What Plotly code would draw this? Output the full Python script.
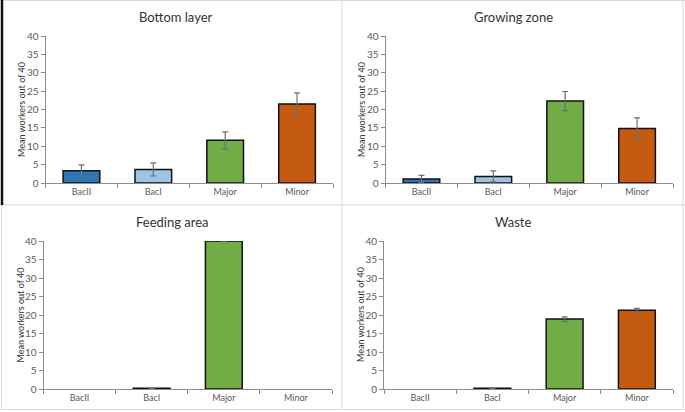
import plotly.graph_objects as go

categories = ["BacII", "BacI", "Major", "Minor"]
bar_colors = ["#2E75B6", "#9DC3E6", "#70AD47", "#C55A11"]

panel_titles = ["Bottom layer", "Growing zone", "Feeding area", "Waste"]

bottom_layer_mean = [3.35, 3.7, 11.6, 21.5]
bottom_layer_err = [1.6, 1.8, 2.3, 3.0]

growing_zone_mean = [1.1, 1.8, 22.3, 14.8]
growing_zone_err = [1.0, 1.5, 2.6, 2.9]

feeding_area_mean = [0.0, 0.2, 40.0, 0.0]
feeding_area_err = [0.0, 0.05, 0.05, 0.0]

waste_mean = [0.0, 0.2, 18.9, 21.3]
waste_err = [0.0, 0.1, 0.6, 0.5]

y_title = "Mean workers out of 40"

W, H = 685, 412

def px(x):
    return x / W

def py(y):
    return 1 - y / H

panels = [
    (bottom_layer_mean, bottom_layer_err, (45.5, 333), (36, 183), 176, 17),
    (growing_zone_mean, growing_zone_err, (385.5, 673), (36, 183), 513, 17),
    (feeding_area_mean, feeding_area_err, (43.5, 332), (241, 389), 172, 222),
    (waste_mean, waste_err, (384, 673), (241, 389), 513, 222),
]

fig = go.Figure()
font_family = "Lato, Liberation Sans, sans-serif"
axis_color = "#8c8c8c"
tick_font = dict(family=font_family, size=9, color="#595959")

annotations = []
for i, (vals, errs, (x0, x1), (ytop, ybot), tx, ty) in enumerate(panels):
    n = "" if i == 0 else str(i + 1)
    y_vals = [v if v > 0 else None for v in vals]
    err_arr = [e if v > 0 else None for v, e in zip(vals, errs)]
    fig.add_trace(go.Bar(
        x=categories, y=y_vals,
        marker=dict(color=bar_colors, line=dict(color="#111111", width=1.5)),
        width=0.51,
        error_y=dict(type="data", array=err_arr, visible=True,
                     color="#6f6f6f", thickness=1.2, width=3),
        xaxis="x" + n, yaxis="y" + n, showlegend=False,
    ))
    fig.update_layout(**{
        "xaxis" + n: dict(
            domain=[px(x0), px(x1)], anchor="y" + n,
            showline=True, linecolor=axis_color, linewidth=1,
            ticks="outside", tickson="boundaries", ticklen=4, tickcolor=axis_color,
            tickfont=tick_font, showgrid=False, fixedrange=True, automargin=False,
            categoryorder="array", categoryarray=categories,
        ),
        "yaxis" + n: dict(
            domain=[py(ybot), py(ytop)], anchor="x" + n,
            range=[0, 40], dtick=5, showline=True, linecolor=axis_color, linewidth=1,
            ticks="outside", ticklen=4, tickcolor=axis_color,
            tickfont=dict(family=font_family, size=10, color="#595959"),
            showgrid=False, zeroline=False, fixedrange=True, automargin=False,
        ),
    })
    annotations.append(dict(
        text=panel_titles[i], x=px(tx), y=py(ty), xref="paper", yref="paper",
        showarrow=False, xanchor="center", yanchor="middle",
        font=dict(family=font_family, size=13, color="#333333"),
    ))
    annotations.append(dict(
        text=y_title, x=px(x0 - 24), y=py((ytop + ybot) / 2), xref="paper", yref="paper",
        showarrow=False, textangle=-90, xanchor="center", yanchor="middle",
        font=dict(family=font_family, size=9, color="#333333"),
    ))

shapes = []
grey = "#d9d9d9"
def line(x0, y0, x1, y1, color=grey, width=1):
    shapes.append(dict(type="line", xref="paper", yref="paper",
                       x0=px(x0), y0=py(y0), x1=px(x1), y1=py(y1),
                       line=dict(color=color, width=width)))

line(342, 0, 342, 410)
line(0, 205, 685, 205)
line(683, 0, 683, 410)
line(0, 409.5, 685, 409.5)
line(0, 0.5, 685, 0.5)
line(1.5, 205, 1.5, 410)
line(2, 0, 2, 205, color="#111111", width=2.5)

fig.update_layout(
    width=W, height=H,
    margin=dict(l=0, r=0, t=0, b=0, pad=0),
    paper_bgcolor="white", plot_bgcolor="white",
    annotations=annotations, shapes=shapes,
    bargap=0.49,
)

fig.write_html("out.html", config={"displayModeBar": False},
               post_script="document.body.style.margin='0';document.body.style.padding='0';")
